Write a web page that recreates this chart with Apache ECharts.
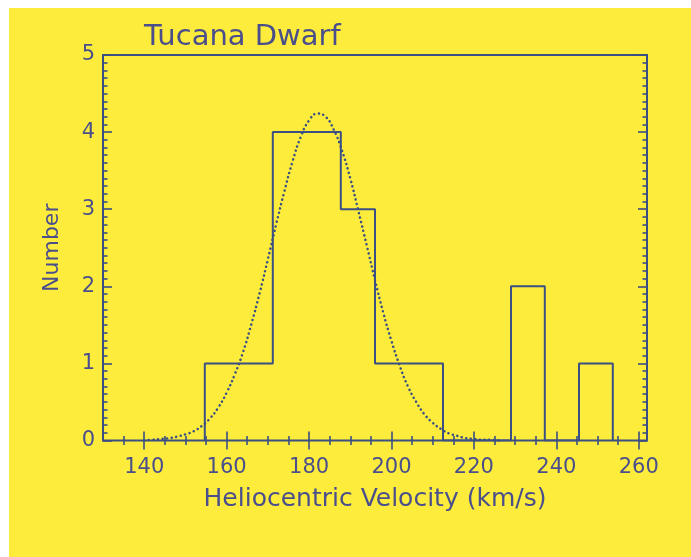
<!DOCTYPE html>
<html>
<head>
<meta charset="utf-8">
<script src="https://cdn.jsdelivr.net/npm/echarts@6/dist/echarts.min.js"></script>
<style>
  html, body { margin: 0; padding: 0; background: #ffffff; width: 691px; height: 557px; overflow: hidden; }
  #bg { position: absolute; left: 9px; top: 8px; right: 0; bottom: 0; background: #FDEC3B; }
  #chart { position: absolute; left: 0; top: 0; width: 691px; height: 557px; }
</style>
</head>
<body>
<div id="bg"></div>
<div id="chart"></div>
<script>
// ---- data ----
const titleText = 'Tucana Dwarf';
const xTitle = 'Heliocentric Velocity (km/s)';
const yTitle = 'Number';
const xRange = [130, 262];
const yRange = [0, 5];
const xTickLabels = [140, 160, 180, 200, 220, 240, 260];
const yTickLabels = [0, 1, 2, 3, 4, 5];
// histogram bin edges and counts
const binEdges = [154.7, 163.0, 171.2, 179.5, 187.7, 196.0, 204.2, 212.5, 220.7, 229.0, 237.2, 245.5, 253.7];
const binCounts = [1, 1, 4, 4, 3, 1, 1, 0, 0, 2, 0, 1];
// dotted fitted curve
const fitX = [140, 142, 144, 146, 148, 150, 152, 154, 156, 158, 160, 162, 164, 166, 168, 170, 172, 174, 176, 178, 180, 182, 184, 186, 188, 190, 192, 194, 196, 198, 200, 202, 204, 206, 208, 210, 212, 214, 216, 218, 220, 222, 224, 226];
const fitY = [0.00, 0.01, 0.02, 0.03, 0.05, 0.08, 0.12, 0.19, 0.29, 0.43, 0.62, 0.86, 1.15, 1.51, 1.91, 2.35, 2.80, 3.23, 3.62, 3.94, 4.15, 4.24, 4.20, 4.03, 3.76, 3.40, 2.97, 2.53, 2.08, 1.66, 1.29, 0.97, 0.70, 0.50, 0.34, 0.23, 0.15, 0.09, 0.06, 0.03, 0.02, 0.01, 0.01, 0.00];

// ---- build ----
const lineColor = '#3a4f84';
const textColor = '#4a4f8c';
const font = 'DejaVu Sans';

const xMinor = [];
for (let v = 135; v < 262; v += 5) if (xTickLabels.indexOf(v) < 0) xMinor.push(v);
const yMinor = [];
for (let i = 1; i < 50; i++) if (i % 10 !== 0) yMinor.push(+(i / 10).toFixed(1));

const histPts = [[binEdges[0], 0]];
for (let i = 0; i < binCounts.length; i++) {
  histPts.push([binEdges[i], binCounts[i]]);
  histPts.push([binEdges[i + 1], binCounts[i]]);
}
histPts.push([binEdges[binEdges.length - 1], 0]);
const fitPts = fitX.map((x, i) => [x, fitY[i]]);

function xAx(pos, vals, len, labels) {
  return {
    type: 'value', position: pos, min: xRange[0], max: xRange[1],
    axisLine: { show: false }, splitLine: { show: false },
    axisTick: { show: true, inside: true, length: len, customValues: vals, lineStyle: { color: lineColor, width: 1.6 } },
    axisLabel: labels ? { show: true, customValues: vals, fontSize: 21, fontFamily: font, color: textColor, margin: 17 } : { show: false }
  };
}
function yAx(pos, vals, len, labels) {
  return {
    type: 'value', position: pos, min: yRange[0], max: yRange[1],
    axisLine: { show: false }, splitLine: { show: false },
    axisTick: { show: true, inside: true, length: len, customValues: vals, lineStyle: { color: lineColor, width: 1.6 } },
    axisLabel: labels ? { show: true, customValues: vals, fontSize: 21, fontFamily: font, color: textColor, margin: 8, padding: [4, 0, 0, 0] } : { show: false }
  };
}

const xAxes = [xAx('bottom', xTickLabels, 9, true), xAx('bottom', xMinor, 4.5, false), xAx('top', xTickLabels, 9, false), xAx('top', xMinor, 4.5, false)];
xAxes[0].name = xTitle;
xAxes[0].nameLocation = 'middle';
xAxes[0].nameGap = 46;
xAxes[0].nameTextStyle = { fontSize: 25, fontFamily: font, color: textColor };
const yAxes = [yAx('left', yTickLabels, 9, true), yAx('left', yMinor, 4.5, false), yAx('right', yTickLabels, 9, false), yAx('right', yMinor, 4.5, false)];
yAxes[0].name = yTitle;
yAxes[0].nameLocation = 'middle';
yAxes[0].nameGap = 40;
yAxes[0].nameTextStyle = { fontSize: 22, fontFamily: font, color: textColor };

const chart = echarts.init(document.getElementById('chart'), null, { renderer: 'canvas' });
chart.setOption({
  backgroundColor: 'transparent',
  animation: false,
  title: { text: titleText, left: 139, top: 18, textStyle: { fontSize: 29, fontWeight: 'normal', fontFamily: font, color: textColor } },
  grid: { left: 103, right: 44, top: 55, bottom: 116.5, show: true, borderColor: lineColor, borderWidth: 2, backgroundColor: 'transparent' },
  xAxis: xAxes,
  yAxis: yAxes,
  series: [
    { type: 'line', data: histPts, showSymbol: false, symbol: 'none', lineStyle: { color: lineColor, width: 2 }, z: 3 },
    { type: 'line', data: fitPts, smooth: true, showSymbol: false, symbol: 'none', lineStyle: { color: lineColor, width: 2.5, type: [0.1, 4.5], cap: 'round' }, z: 4 }
  ]
});
</script>
</body>
</html>
